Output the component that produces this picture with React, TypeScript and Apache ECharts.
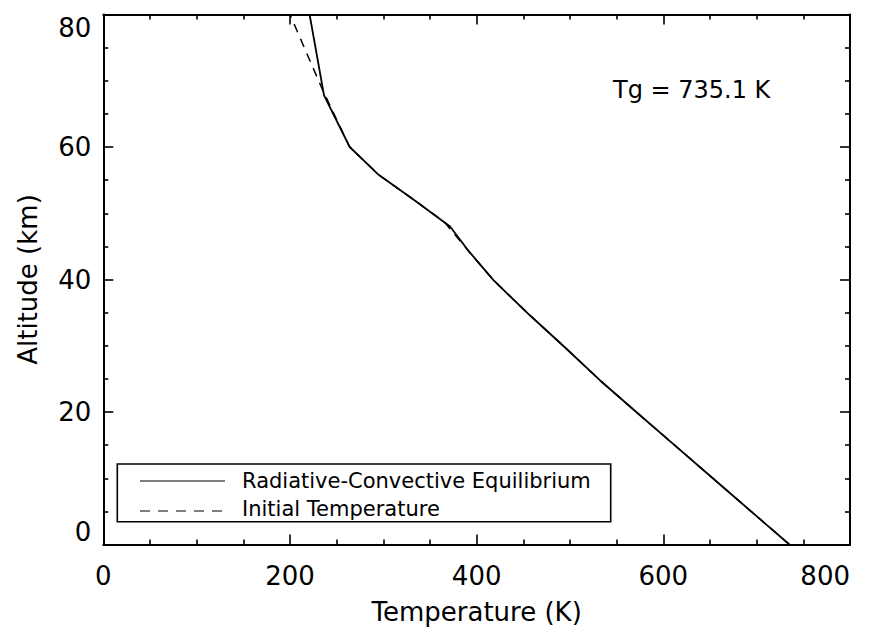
import React, { useEffect, useRef } from "react";
import * as echarts from "echarts";

// Radiative-convective equilibrium profile (solid)
const eqTemp = [735.1, 694, 653, 612, 571, 532, 495, 457, 418, 392, 371.5, 333, 295, 264, 236.5, 221];
const eqAlt = [0, 5, 10, 15, 20, 24.8, 29.7, 34.6, 39.9, 44.2, 48, 52, 55.8, 60, 67.8, 80];

// Initial temperature profile (dashed)
const initTemp = [735.1, 694, 653, 612, 571, 532, 495, 457, 418, 393, 366, 333, 296, 264, 235, 200];
const initAlt = [0, 5, 10, 15, 20, 24.8, 29.7, 34.6, 39.9, 44, 48.6, 52, 55.7, 60, 68.6, 80];

const seriesNames = ["Radiative-Convective Equilibrium", "Initial Temperature"];
const annotation = "Tg = 735.1 K";

const FONT = "DejaVu Sans";

export default function App() {
  const ref = useRef<HTMLDivElement>(null);

  useEffect(() => {
    if (!ref.current) return;
    const chart = echarts.init(ref.current, null, { renderer: "svg" });

    const axisCommon = (show: boolean) => ({
      type: "value" as const,
      axisLine: { show: true, onZero: false, lineStyle: { color: "#000", width: 2 } },
      axisTick: { show: true, inside: true, length: 10, lineStyle: { color: "#000", width: 1.6 } },
      minorTick: { show: true, splitNumber: 4, length: 5, lineStyle: { color: "#000", width: 1.6 } },
      splitLine: { show: false },
      minorSplitLine: { show: false },
      axisLabel: { show, color: "#000", fontFamily: FONT, fontSize: 26 },
    });

    const xBase = axisCommon(true);
    const yBase = axisCommon(true);

    chart.setOption({
      animation: false,
      backgroundColor: "#fff",
      grid: {
        left: 103.3,
        right: 32,
        top: 14.5,
        bottom: 86.5,
        containLabel: false,
        outerBoundsMode: "none",
      },
      xAxis: [
        {
          ...xBase,
          min: 0,
          max: 800,
          interval: 200,
          position: "bottom",
          axisLabel: { ...xBase.axisLabel, margin: 18, alignMaxLabel: "right" },
          name: "Temperature (K)",
          nameLocation: "middle",
          nameGap: 54,
          nameTextStyle: { color: "#000", fontFamily: FONT, fontSize: 26 },
        },
        {
          ...axisCommon(false),
          min: 0,
          max: 800,
          interval: 200,
          position: "top",
        },
      ],
      yAxis: [
        {
          ...yBase,
          min: 0,
          max: 80,
          interval: 20,
          position: "left",
          axisLabel: {
            ...yBase.axisLabel,
            margin: 12,
            verticalAlignMinLabel: "bottom",
            verticalAlignMaxLabel: "top",
          },
          name: "Altitude (km)",
          nameLocation: "middle",
          nameGap: 62,
          nameTextStyle: { color: "#000", fontFamily: FONT, fontSize: 26 },
        },
        {
          ...axisCommon(false),
          min: 0,
          max: 80,
          interval: 20,
          position: "right",
        },
      ],
      series: [
        {
          type: "line",
          name: seriesNames[0],
          xAxisIndex: 0,
          yAxisIndex: 0,
          data: eqTemp.map((t, i) => [t, eqAlt[i]]),
          showSymbol: false,
          symbol: "none",
          silent: true,
          z: 3,
          lineStyle: { color: "#000", width: 1.8 },
        },
        {
          type: "line",
          name: seriesNames[1],
          xAxisIndex: 0,
          yAxisIndex: 0,
          data: initTemp.map((t, i) => [t, initAlt[i]]),
          showSymbol: false,
          symbol: "none",
          silent: true,
          z: 2,
          lineStyle: { color: "#000", width: 1.5, type: [9, 7] },
        },
      ],
      graphic: [
        {
          type: "rect",
          shape: { x: 117.3, y: 464, width: 493.4, height: 57.7 },
          style: { fill: "#fff", stroke: "#000", lineWidth: 1.6 },
          z: 10,
        },
        {
          type: "line",
          shape: { x1: 140, y1: 481, x2: 225, y2: 481 },
          style: { stroke: "#000", lineWidth: 1.2 },
          z: 11,
        },
        {
          type: "line",
          shape: { x1: 140, y1: 511, x2: 225, y2: 511 },
          style: { stroke: "#000", lineWidth: 1.2, lineDash: [10, 8] },
          z: 11,
        },
        {
          type: "text",
          x: 242,
          y: 481,
          style: {
            text: seriesNames[0],
            fill: "#000",
            font: `21px "${FONT}"`,
            verticalAlign: "middle",
            align: "left",
          },
          z: 11,
        },
        {
          type: "text",
          x: 242,
          y: 509,
          style: {
            text: seriesNames[1],
            fill: "#000",
            font: `21px "${FONT}"`,
            verticalAlign: "middle",
            align: "left",
          },
          z: 11,
        },
        {
          type: "text",
          x: 613,
          y: 90,
          style: {
            text: annotation,
            fill: "#000",
            font: `24px "${FONT}"`,
            verticalAlign: "middle",
            align: "left",
          },
          z: 11,
        },
      ],
    });

    return () => {
      chart.dispose();
    };
  }, []);

  return (
    <div
      ref={ref}
      style={{
        position: "fixed",
        left: 0,
        top: 0,
        width: 882,
        height: 631,
        background: "#fff",
      }}
    />
  );
}
